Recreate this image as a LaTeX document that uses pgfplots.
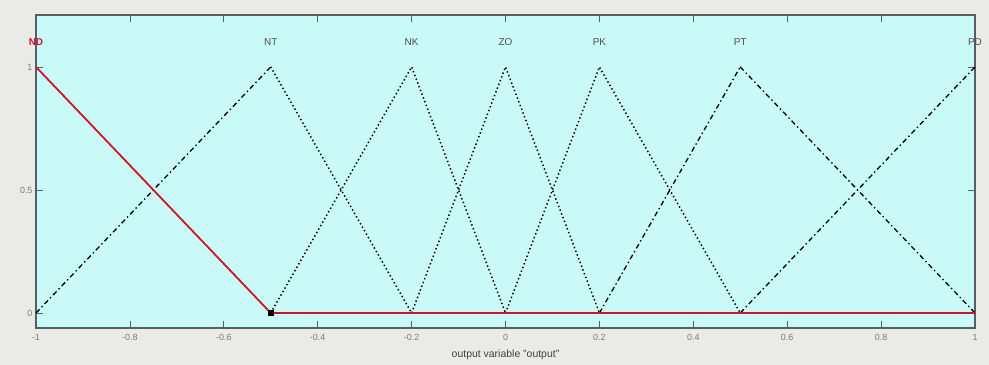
\documentclass[border=0pt]{standalone}
\usepackage{pgfplots}
\pgfplotsset{compat=1.18}
\usepackage{fontspec}
\setmainfont{Liberation Sans}
\definecolor{plotbg}{RGB}{202,250,247}
\definecolor{figbg}{RGB}{234,234,230}
\definecolor{axgray}{RGB}{85,95,100}
\definecolor{mfred}{RGB}{205,20,40}
\definecolor{lblgray}{RGB}{120,125,125}

\tikzset{
  mfdot/.style={black, line width=1.5bp, dash pattern=on 1.4bp off 2.6bp},
  mfdashdot/.style={black, line width=1.3bp, dash pattern=on 5bp off 3bp on 1.4bp off 3bp},
}

\begin{document}
\begin{tikzpicture}
% figure background
\fill[figbg] (0,0) rectangle (989bp,365bp);
\begin{axis}[
  at={(36bp,37bp)}, anchor=south west,
  scale only axis, width=939bp, height=313bp,
  xmin=-1, xmax=1, ymin=-0.061, ymax=1.211,
  axis background/.style={fill=plotbg},
  axis line style={axgray, line width=1.2bp},
  xtick={-1,-0.8,-0.6,-0.4,-0.2,0,0.2,0.4,0.6,0.8,1},
  xticklabels={-1,-0.8,-0.6,-0.4,-0.2,0,0.2,0.4,0.6,0.8,1},
  ytick={0,0.5,1},
  yticklabels={0,0.5,1},
  tick align=inside,
  major tick length=7bp,
  tick style={axgray, line width=0.8bp},
  /pgf/number format/assume math mode=true,
  tick label style={font=\fontsize{9}{10}\selectfont, text=lblgray},
  xticklabel style={yshift=-3bp},
  xlabel={output variable "output"},
  xlabel style={font=\fontsize{10.5}{12}\selectfont, text=black!75, yshift=-2bp},
  clip=false,
]
% membership functions of the output variable
\addplot[mfdashdot] coordinates {(-1,0) (-0.5,1)};
\addplot[mfdot] coordinates {(-0.5,1) (-0.2,0)};
\addplot[mfdot] coordinates {(-0.5,0) (-0.2,1) (0,0)};
\addplot[mfdot] coordinates {(-0.2,0) (0,1) (0.2,0)};
\addplot[mfdot] coordinates {(0,0) (0.2,1) (0.5,0)};
\addplot[mfdashdot] coordinates {(0.2,0) (0.5,1)};
\addplot[mfdashdot] coordinates {(0.5,1) (1,0)};
\addplot[mfdashdot] coordinates {(0.5,0) (1,1)};
% selected function ND
\addplot[mfred, line width=1.8bp] coordinates {(-1,1) (-0.5,0) (1,0)};
\addplot[only marks, mark=square*, mark size=2.5bp, black] coordinates {(-0.5,0)};
% function names
\node[text=mfred, font=\fontsize{10}{11}\selectfont\bfseries] at (axis cs:-1,1.1) {ND};
\node[text=black!70, font=\fontsize{10}{11}\selectfont] at (axis cs:-0.5,1.1) {NT};
\node[text=black!70, font=\fontsize{10}{11}\selectfont] at (axis cs:-0.2,1.1) {NK};
\node[text=black!70, font=\fontsize{10}{11}\selectfont] at (axis cs:0,1.1) {ZO};
\node[text=black!70, font=\fontsize{10}{11}\selectfont] at (axis cs:0.2,1.1) {PK};
\node[text=black!70, font=\fontsize{10}{11}\selectfont] at (axis cs:0.5,1.1) {PT};
\node[text=black!70, font=\fontsize{10}{11}\selectfont] at (axis cs:1,1.1) {PD};
\end{axis}
\end{tikzpicture}
\end{document}
